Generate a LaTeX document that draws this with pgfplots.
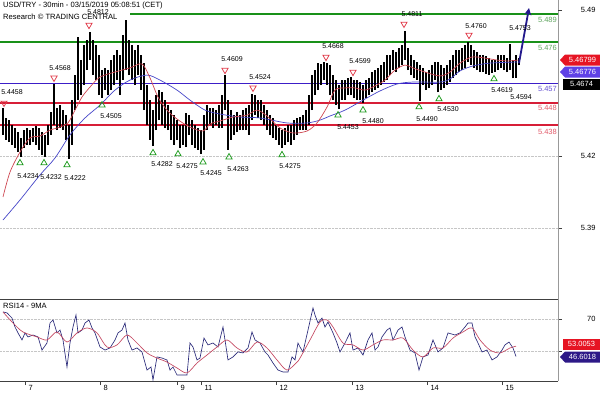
\documentclass[border=0pt]{standalone}
\usepackage{pgfplots}
\pgfplotsset{compat=1.18}
\usepackage{pgfplotstable}
\usepackage{fontspec}
\setmainfont{Liberation Sans}
\usetikzlibrary{arrows.meta}
\definecolor{lvgreen}{RGB}{25,145,25}
\definecolor{lvgreenT}{RGB}{95,165,95}
\definecolor{lvblue}{RGB}{60,30,200}
\definecolor{lvblueT}{RGB}{100,80,210}
\definecolor{lvred}{RGB}{215,30,55}
\definecolor{lvredT}{RGB}{225,90,105}
\definecolor{mared}{RGB}{205,70,80}
\definecolor{mablue}{RGB}{70,70,200}
\definecolor{rsiblue}{RGB}{40,40,120}
\definecolor{rsired}{RGB}{195,70,95}
\definecolor{arrownavy}{RGB}{35,25,140}
\definecolor{triRed}{RGB}{225,60,75}
\definecolor{triGreen}{RGB}{30,155,30}
\definecolor{boxred}{RGB}{230,20,35}
\definecolor{boxpurple}{RGB}{95,65,230}
\definecolor{boxnavy}{RGB}{45,25,135}
\newcommand\tickf{\fontsize{7.5}{8}\selectfont}
\newcommand\labf{\fontsize{7}{8}\selectfont}
\newcommand\titf{\fontsize{7.6}{9}\selectfont}

\pgfplotstableread{
x lo hi op cl
3 5.4334 5.4458 5.4402 5.4379
6 5.4311 5.4412 5.4379 5.4356
9 5.4301 5.4402 5.4356 5.4334
12 5.4288 5.4379 5.4334 5.4320
15 5.4274 5.4366 5.4320 5.4311
18 5.4255 5.4347 5.4311 5.4288
21 5.4232 5.4320 5.4288 5.4301
24 5.4274 5.4356 5.4301 5.4320
27 5.4288 5.4366 5.4320 5.4334
30 5.4288 5.4356 5.4334 5.4311
33 5.4301 5.4366 5.4311 5.4343
36 5.4288 5.4375 5.4343 5.4320
39 5.4265 5.4366 5.4320 5.4288
42 5.4242 5.4347 5.4288 5.4265
45 5.4232 5.4334 5.4265 5.4311
48 5.4288 5.4379 5.4311 5.4356
51 5.4334 5.4439 5.4356 5.4402
54 5.4379 5.4568 5.4402 5.4425
57 5.4356 5.4458 5.4425 5.4439
60 5.4366 5.4471 5.4439 5.4412
63 5.4356 5.4448 5.4412 5.4379
66 5.4311 5.4425 5.4379 5.4334
69 5.4223 5.4379 5.4334 5.4288
72 5.4288 5.4494 5.4288 5.4471
75 5.4448 5.4609 5.4471 5.4540
78 5.4494 5.4784 5.4540 5.4586
81 5.4517 5.4678 5.4586 5.4632
84 5.4563 5.4747 5.4632 5.4701
87 5.4632 5.4770 5.4701 5.4724
90 5.4678 5.4807 5.4724 5.4747
93 5.4609 5.4770 5.4747 5.4678
96 5.4586 5.4747 5.4678 5.4632
99 5.4517 5.4701 5.4632 5.4563
102 5.4504 5.4632 5.4563 5.4586
105 5.4540 5.4642 5.4586 5.4609
108 5.4517 5.4632 5.4609 5.4563
111 5.4540 5.4678 5.4563 5.4632
114 5.4563 5.4701 5.4632 5.4655
117 5.4586 5.4724 5.4655 5.4678
120 5.4517 5.4701 5.4678 5.4586
123 5.4600 5.4793 5.4586 5.4724
126 5.4632 5.4862 5.4724 5.4747
129 5.4609 5.4770 5.4747 5.4678
132 5.4586 5.4747 5.4678 5.4655
135 5.4563 5.4724 5.4655 5.4632
138 5.4609 5.4747 5.4632 5.4701
141 5.4540 5.4701 5.4701 5.4609
144 5.4448 5.4664 5.4609 5.4494
147 5.4379 5.4563 5.4494 5.4425
150 5.4311 5.4494 5.4425 5.4356
153 5.4283 5.4448 5.4356 5.4402
156 5.4356 5.4517 5.4402 5.4471
159 5.4402 5.4540 5.4471 5.4448
162 5.4379 5.4531 5.4448 5.4425
165 5.4366 5.4494 5.4425 5.4402
168 5.4356 5.4471 5.4402 5.4379
171 5.4311 5.4448 5.4379 5.4356
174 5.4288 5.4425 5.4356 5.4334
177 5.4311 5.4402 5.4334 5.4370
180 5.4274 5.4379 5.4370 5.4356
183 5.4288 5.4379 5.4356 5.4334
186 5.4278 5.4435 5.4334 5.4402
189 5.4334 5.4425 5.4402 5.4379
192 5.4288 5.4402 5.4379 5.4334
195 5.4274 5.4379 5.4334 5.4311
198 5.4265 5.4366 5.4311 5.4288
201 5.4246 5.4356 5.4288 5.4311
204 5.4265 5.4425 5.4311 5.4379
207 5.4356 5.4471 5.4379 5.4425
210 5.4379 5.4458 5.4425 5.4412
213 5.4366 5.4458 5.4412 5.4402
216 5.4379 5.4448 5.4402 5.4425
219 5.4366 5.4471 5.4425 5.4402
222 5.4366 5.4517 5.4402 5.4471
225 5.4448 5.4609 5.4471 5.4494
228 5.4265 5.4494 5.4494 5.4379
231 5.4311 5.4448 5.4379 5.4402
234 5.4334 5.4425 5.4402 5.4379
237 5.4347 5.4439 5.4379 5.4402
240 5.4356 5.4425 5.4402 5.4379
243 5.4356 5.4448 5.4379 5.4412
246 5.4356 5.4458 5.4412 5.4402
249 5.4334 5.4471 5.4402 5.4425
252 5.4402 5.4524 5.4425 5.4494
255 5.4425 5.4517 5.4494 5.4471
258 5.4412 5.4494 5.4471 5.4448
261 5.4402 5.4494 5.4448 5.4439
264 5.4379 5.4471 5.4439 5.4412
267 5.4356 5.4448 5.4412 5.4393
270 5.4334 5.4425 5.4393 5.4366
273 5.4320 5.4412 5.4366 5.4347
276 5.4311 5.4379 5.4347 5.4334
279 5.4288 5.4366 5.4334 5.4311
282 5.4274 5.4356 5.4311 5.4301
285 5.4288 5.4366 5.4301 5.4320
288 5.4301 5.4379 5.4320 5.4334
291 5.4288 5.4379 5.4334 5.4347
294 5.4311 5.4402 5.4347 5.4356
297 5.4334 5.4412 5.4356 5.4379
300 5.4356 5.4416 5.4379 5.4393
303 5.4356 5.4425 5.4393 5.4379
306 5.4356 5.4448 5.4379 5.4425
309 5.4379 5.4517 5.4425 5.4471
312 5.4448 5.4609 5.4471 5.4563
315 5.4517 5.4632 5.4563 5.4586
318 5.4540 5.4664 5.4586 5.4632
321 5.4563 5.4660 5.4632 5.4609
324 5.4586 5.4668 5.4609 5.4642
327 5.4563 5.4664 5.4642 5.4632
330 5.4517 5.4655 5.4632 5.4586
333 5.4494 5.4609 5.4586 5.4563
336 5.4471 5.4586 5.4563 5.4517
339 5.4453 5.4563 5.4517 5.4508
342 5.4494 5.4586 5.4508 5.4540
345 5.4494 5.4586 5.4540 5.4550
348 5.4517 5.4596 5.4550 5.4563
351 5.4517 5.4599 5.4563 5.4577
354 5.4504 5.4586 5.4577 5.4550
357 5.4494 5.4586 5.4550 5.4540
360 5.4494 5.4577 5.4540 5.4531
363 5.4480 5.4563 5.4531 5.4540
366 5.4504 5.4586 5.4540 5.4550
369 5.4517 5.4596 5.4550 5.4563
372 5.4531 5.4623 5.4563 5.4586
375 5.4540 5.4632 5.4586 5.4596
378 5.4550 5.4642 5.4596 5.4609
381 5.4563 5.4655 5.4609 5.4623
384 5.4577 5.4669 5.4623 5.4632
387 5.4586 5.4701 5.4632 5.4655
390 5.4609 5.4701 5.4655 5.4669
393 5.4632 5.4724 5.4669 5.4687
396 5.4623 5.4715 5.4687 5.4678
399 5.4642 5.4733 5.4678 5.4701
402 5.4655 5.4747 5.4701 5.4715
405 5.4678 5.4811 5.4715 5.4733
408 5.4632 5.4724 5.4733 5.4687
411 5.4609 5.4701 5.4687 5.4655
414 5.4596 5.4678 5.4655 5.4642
417 5.4586 5.4669 5.4642 5.4623
420 5.4490 5.4655 5.4623 5.4596
423 5.4563 5.4642 5.4596 5.4609
426 5.4540 5.4623 5.4609 5.4586
429 5.4550 5.4632 5.4586 5.4596
432 5.4563 5.4655 5.4596 5.4623
435 5.4586 5.4669 5.4623 5.4632
438 5.4530 5.4669 5.4632 5.4609
441 5.4540 5.4655 5.4609 5.4586
444 5.4550 5.4642 5.4586 5.4596
447 5.4563 5.4655 5.4596 5.4609
450 5.4577 5.4678 5.4609 5.4642
453 5.4596 5.4701 5.4642 5.4655
456 5.4609 5.4724 5.4655 5.4678
459 5.4623 5.4724 5.4678 5.4687
462 5.4632 5.4733 5.4687 5.4701
465 5.4642 5.4747 5.4701 5.4715
468 5.4669 5.4760 5.4715 5.4724
471 5.4655 5.4747 5.4724 5.4701
474 5.4642 5.4724 5.4701 5.4687
477 5.4632 5.4715 5.4687 5.4678
480 5.4623 5.4701 5.4678 5.4669
483 5.4623 5.4701 5.4669 5.4655
486 5.4614 5.4697 5.4655 5.4660
489 5.4609 5.4687 5.4660 5.4651
492 5.4619 5.4678 5.4651 5.4642
495 5.4623 5.4678 5.4642 5.4651
498 5.4632 5.4701 5.4651 5.4669
501 5.4642 5.4701 5.4669 5.4678
504 5.4632 5.4701 5.4678 5.4669
507 5.4623 5.4687 5.4669 5.4660
510 5.4632 5.4753 5.4660 5.4669
513 5.4594 5.4678 5.4669 5.4655
516 5.4596 5.4701 5.4655 5.4669
519 5.4655 5.4687 5.4669 5.4680
}\candles

\pgfplotstableread{
x y
3 5.4049
10 5.4163
20 5.4255
30 5.4320
40 5.4329
50 5.4356
60 5.4370
68 5.4389
75 5.4448
82 5.4508
90 5.4554
100 5.4600
115 5.4623
130 5.4642
142 5.4660
150 5.4596
158 5.4508
167 5.4448
177 5.4407
190 5.4370
203 5.4352
210 5.4384
220 5.4398
233 5.4416
247 5.4425
257 5.4448
267 5.4421
280 5.4366
293 5.4343
307 5.4352
317 5.4389
327 5.4462
335 5.4540
345 5.4550
355 5.4550
365 5.4540
375 5.4559
385 5.4586
395 5.4632
405 5.4655
413 5.4642
425 5.4623
440 5.4605
450 5.4623
460 5.4664
472 5.4692
485 5.4687
497 5.4678
508 5.4674
518 5.4678
}\mared

\pgfplotstableread{
x y
3 5.3943
20 5.4035
40 5.4150
55 5.4228
70 5.4334
85 5.4412
100 5.4471
115 5.4540
130 5.4586
147 5.4609
160 5.4586
177 5.4540
190 5.4494
205 5.4448
220 5.4430
240 5.4416
260 5.4412
287 5.4389
307 5.4389
320 5.4402
330 5.4421
345 5.4448
363 5.4494
380 5.4536
397 5.4568
413 5.4577
440 5.4577
450 5.4591
460 5.4628
473 5.4651
490 5.4664
517 5.4669
}\mablue

\pgfplotstableread{
x y
3 74.4
7 73.8
12 70.6
15 65.0
18 61.3
22 56.9
25 61.3
28 58.8
33 60.0
38 58.8
42 50.6
47 55.0
50 67.5
53 69.4
57 61.3
60 63.1
63 56.9
67 40.0
70 55.0
73 65.0
76 72.5
78 61.3
82 63.1
85 67.5
89 69.4
92 64.4
95 61.3
100 52.5
105 50.6
110 51.9
115 56.9
118 61.3
122 63.1
125 67.5
128 56.9
132 50.6
137 51.9
142 49.4
147 38.1
151 40.0
153 31.9
157 46.3
162 45.6
167 44.4
170 38.1
173 40.0
177 35.0
182 35.0
187 35.0
190 55.0
193 52.5
197 44.4
200 45.6
204 58.1
208 53.8
213 55.0
218 52.5
223 65.0
225 56.9
228 44.4
233 46.3
238 49.4
243 48.8
248 51.9
252 61.9
255 56.9
260 55.0
265 49.4
268 47.5
273 42.5
278 38.1
283 36.9
288 36.9
292 46.3
295 44.4
298 55.0
300 52.5
303 49.4
308 63.1
313 76.9
315 72.5
318 67.5
322 70.6
325 65.0
328 68.1
333 61.3
337 55.0
340 49.4
345 55.0
350 61.3
353 50.6
358 51.9
363 47.5
368 56.9
372 61.3
375 50.6
378 52.5
382 58.8
387 63.1
390 64.4
393 56.9
398 63.1
402 65.0
405 58.8
410 50.6
415 48.8
419 38.1
423 46.3
428 47.5
433 56.9
438 49.4
443 51.9
448 61.3
455 60.0
460 61.3
465 65.0
468 67.5
472 67.5
475 58.8
478 55.0
482 49.4
487 50.6
492 44.4
497 46.3
502 50.6
505 53.8
509 55.6
513 51.9
516 46.6
}\rsi

\pgfplotstableread{
x y
3 74.4
13 67.5
23 61.9
37 58.8
47 56.9
57 61.9
67 55.6
77 61.3
87 64.4
97 61.3
107 52.5
117 53.8
127 60.0
137 55.0
147 48.8
157 45.6
167 43.1
177 39.4
187 36.3
197 42.5
207 47.5
217 52.5
227 56.9
237 51.9
247 49.4
257 55.6
267 51.9
277 44.4
287 38.1
297 43.1
300 45.6
310 56.9
320 68.1
327 69.4
333 65.0
343 55.0
353 53.8
363 50.6
373 53.8
383 56.9
393 56.9
403 58.1
413 50.6
423 46.3
433 51.9
443 51.9
453 58.1
463 61.9
472 64.4
480 56.9
490 50.6
500 48.8
510 51.9
516 53.0
}\rsima

\begin{document}
\begin{tikzpicture}
\begin{axis}[
  at={(0pt,93pt)}, anchor=south west,
  width=558pt, height=299pt, scale only axis,
  xmin=0, xmax=558, ymin=5.3580, ymax=5.4954,
  axis x line*=bottom, axis y line*=right,
  xtick=\empty,
  ytick={5.3906,5.4237}, yticklabels={5.39,5.42},
  extra y ticks={5.4908}, extra y tick labels={5.49},
  extra y tick style={grid=none},
  ymajorgrids, grid style={densely dotted, gray!45},
  tick align=outside, major tick length=4pt,
  tick style={black!75},
  y axis line style={gray!80, line width=0.8pt},
  x axis line style={black!75, line width=0.8pt},
  /pgf/number format/assume math mode=true,
  yticklabel style={font=\tickf, anchor=east, xshift=37pt},
  clip=false,
]
% level lines
\addplot[lvgreen, line width=1.5pt] coordinates {(130,5.489) (558,5.489)};
\addplot[lvgreen, line width=1.5pt] coordinates {(0,5.476) (558,5.476)};
\addplot[lvblue, line width=1.6pt] coordinates {(0,5.457) (558,5.457)};
\addplot[lvred, line width=1.5pt] coordinates {(0,5.448) (558,5.448)};
\addplot[lvred, line width=1.5pt] coordinates {(0,5.438) (558,5.438)};
% candle wicks
\addplot[draw=none, mark=none, error bars/.cd, y dir=plus, y explicit, error mark=none,
  error bar style={draw=black, line width=1.25pt}]
  table[x=x, y=lo, y error expr=\thisrow{hi}-\thisrow{lo}] {\candles};
% candle bodies
\addplot[draw=none, mark=none, error bars/.cd, y dir=plus, y explicit, error mark=none,
  error bar style={draw=black, line width=2.8pt}]
  table[x=x, y=op, y error expr=\thisrow{cl}-\thisrow{op}] {\candles};
% moving averages
\addplot[mablue, line width=0.7pt, smooth] table[x=x,y=y] {\mablue};
\addplot[mared, line width=0.7pt, smooth] table[x=x,y=y] {\mared};
% arrow
\addplot[arrownavy, line width=1.8pt, -{Stealth[length=7pt,width=7pt]}] coordinates {(519,5.4664) (529,5.4917)};
% triangles
\addplot[only marks, mark=triangle, mark size=3.6pt, mark options={rotate=180, draw=triRed, fill=white, line width=0.75pt}] coordinates {
(4,5.4481) (54,5.4596) (89,5.4839) (225,5.4632) (253,5.4550) (326,5.4692) (353,5.4623) (404,5.4844) (469,5.4793)};
\addplot[only marks, mark=triangle, mark size=3.6pt, mark options={draw=triGreen, fill=white, line width=0.75pt}] coordinates {
(20,5.4205) (44,5.4205) (67,5.4196) (102,5.4471) (153,5.4251) (178,5.4246) (203,5.4209) (229,5.4232) (282,5.4242) (338,5.4425) (363,5.4448) (419,5.4462) (439,5.4499) (494,5.4591)};
% level labels
\node[anchor=east, font=\tickf, text=lvgreenT, inner sep=0pt] at (axis cs:557,5.4862) {5.489};
\node[anchor=east, font=\tickf, text=lvgreenT, inner sep=0pt] at (axis cs:557,5.4733) {5.476};
\node[anchor=east, font=\tickf, text=lvblueT, inner sep=0pt] at (axis cs:557,5.4545) {5.457};
\node[anchor=east, font=\tickf, text=lvredT, inner sep=0pt] at (axis cs:557,5.4458) {5.448};
\node[anchor=east, font=\tickf, text=lvredT, inner sep=0pt] at (axis cs:557,5.4347) {5.438};
\end{axis}
% title
\node[anchor=west, font=\titf, inner sep=0pt] at (3pt,386.5pt) {USD/TRY - 30min - 03/15/2019 05:08:51 (CET)};
\node[anchor=west, font=\titf, inner sep=0pt] at (3pt,375.5pt) {Research © TRADING CENTRAL};
\begin{axis}[
  at={(0pt,93pt)}, anchor=south west,
  width=558pt, height=299pt, scale only axis,
  xmin=0, xmax=558, ymin=5.3580, ymax=5.4954,
  hide axis, clip=false,
]
\addplot[draw=none, mark=none, nodes near coords, point meta=explicit symbolic,
  every node near coord/.append style={anchor=center, font=\labf, text=black, inner sep=0pt}]
  table[x=x, y=y, meta=t] {
x y t
12 5.4531 5.4458
60 5.4642 5.4568
98 5.4899 5.4812
232 5.4683 5.4609
260 5.4600 5.4524
333 5.4743 5.4668
360 5.4674 5.4599
412 5.4890 5.4811
476 5.4835 5.4760
520 5.4825 5.4753
28 5.4145 5.4234
51 5.4141 5.4232
75 5.4136 5.4222
111 5.4421 5.4505
162 5.4200 5.4282
187 5.4191 5.4275
211 5.4159 5.4245
238 5.4177 5.4263
290 5.4191 5.4275
348 5.4370 5.4453
373 5.4398 5.4480
427 5.4407 5.4490
448 5.4453 5.4530
502 5.4540 5.4619
521 5.4508 5.4594
};
\end{axis}
% RSI panel
\begin{axis}[
  at={(0pt,11pt)}, anchor=south west,
  width=558pt, height=82pt, scale only axis,
  xmin=0, xmax=558, ymin=31.25, ymax=82.5,
  axis x line*=bottom, axis y line*=right,
  xtick={25,100,177,201,276,352,427,502},
  xticklabels={7,8,9,11,12,13,14,15},
  ytick={50,70}, yticklabels={,70},
  ymajorgrids, grid style={densely dotted, gray!45},
  tick align=outside, major tick length=4pt,
  tick style={black!75},
  y axis line style={gray!80, line width=0.8pt},
  x axis line style={black!75, line width=0.8pt},
  /pgf/number format/assume math mode=true,
  yticklabel style={font=\tickf, anchor=east, xshift=37pt},
  xticklabel style={font=\tickf, anchor=north west, xshift=0pt, yshift=3pt},
  clip=false,
]
\addplot[rsiblue, line width=0.65pt] table[x=x,y=y] {\rsi};
\addplot[rsired, line width=0.65pt, smooth] table[x=x,y=y] {\rsima};
\end{axis}
\node[anchor=west, font=\titf, inner sep=0pt] at (3pt,86pt) {RSI14 - 9MA};
% price boxes
\fill[boxred] (560pt,332pt) -- (565pt,337.5pt) -- (600pt,337.5pt) -- (600pt,326.5pt) -- (565pt,326.5pt) -- cycle;
\node[font=\tickf, text=white, inner sep=0pt] at (582.5pt,332pt) {5.46799};
\fill[boxpurple] (560pt,320pt) -- (565pt,325.5pt) -- (600pt,325.5pt) -- (600pt,314.5pt) -- (565pt,314.5pt) -- cycle;
\node[font=\tickf, text=white, inner sep=0pt] at (582.5pt,320pt) {5.46776};
\fill[black] (563pt,313.5pt) rectangle (600pt,302.5pt);
\node[font=\tickf, text=white, inner sep=0pt] at (581.5pt,308pt) {5.4674};
\fill[boxred] (563pt,53.5pt) rectangle (600pt,42.5pt);
\node[font=\tickf, text=white, inner sep=0pt] at (581.5pt,48pt) {53.0053};
\fill[boxnavy] (560pt,35pt) -- (565pt,40.5pt) -- (600pt,40.5pt) -- (600pt,29.5pt) -- (565pt,29.5pt) -- cycle;
\node[font=\tickf, text=white, inner sep=0pt] at (582.5pt,35pt) {46.6018};
\pgfresetboundingbox
\useasboundingbox (0pt,0pt) rectangle (600pt,392pt);
\end{tikzpicture}
\end{document}
